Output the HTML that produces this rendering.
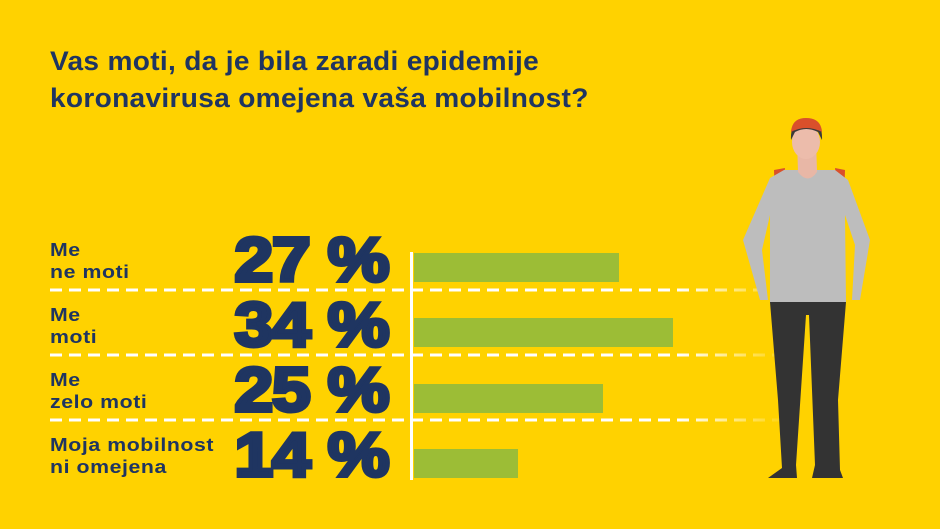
<!DOCTYPE html>
<html><head><meta charset="utf-8"><style>
body{margin:0;width:940px;height:529px;background:#FFD200;overflow:hidden;position:relative;font-family:"Liberation Sans",sans-serif;color:#1f3561}
.t{position:absolute;left:50px;top:43px;font-size:27px;font-weight:bold;line-height:37px;letter-spacing:0.3px;transform:scaleX(1.04);transform-origin:left}
.l{position:absolute;left:50px;font-size:18.5px;font-weight:bold;line-height:22px;letter-spacing:0.5px;transform:scaleX(1.15);transform-origin:left}
.n{position:absolute;right:552px;font-size:62px;font-weight:900;line-height:62px;letter-spacing:-1px;transform:scaleX(1.12);transform-origin:right;-webkit-text-stroke:4px #1f3561}
.b{position:absolute;left:414px;height:29px;background:#9cbd36}
</style></head><body>
<div class="t">Vas moti, da je bila zaradi epidemije<br>koronavirusa omejena vaša mobilnost?</div>
<svg width="940" height="529" style="position:absolute;left:0;top:0">
<defs><linearGradient id="g" gradientUnits="userSpaceOnUse" x1="50" y1="0" x2="790" y2="0"><stop offset="0.85" stop-color="#fff"/><stop offset="1" stop-color="#fff" stop-opacity="0"/></linearGradient></defs>
<g stroke="url(#g)" stroke-width="3" stroke-dasharray="12,7">
<line x1="50" y1="290" x2="790" y2="290"/><line x1="50" y1="355" x2="790" y2="355"/><line x1="50" y1="420" x2="790" y2="420"/></g>
<rect x="410" y="252" width="3" height="228" fill="#fff"/>
<path d="M774 170 L785 168 L776 230 Z" fill="#d9502b"/><path d="M845 170 L835 168 L843 230 Z" fill="#d9502b"/>
<path d="M784 170 L835 170 L848 180 L870 240 L860 300 L852 300 L855 245 L845 215 L846 302 L770 302 L770 215 L762 250 L768 300 L760 300 L743 240 L770 178 Z" fill="#bdbdbd"/>
<path d="M770 302 L846 302 L838 400 L840 470 L843 478 L812 478 L815 465 L809 315 L806 315 L796 465 L797 478 L768 478 L782 468 L778 400 Z" fill="#333"/>
<path d="M797 140 L816 140 L817 172 Q808 185 798 172 Z" fill="#e8b7a6"/>
<ellipse cx="806" cy="142" rx="14" ry="17" fill="#ecbcab"/>
<path d="M791 140 Q790 120 806 120 Q823 120 822 140 L818 132 Q806 126 795 132 Z" fill="#3a3a3a"/>
<path d="M791 132 Q792 118 806 118 Q821 118 822 132 Q806 124 791 132Z" fill="#d9502b"/>
</svg>
<div class="l" style="top:239px">Me<br>ne moti</div>
<div class="l" style="top:304px">Me<br>moti</div>
<div class="l" style="top:369px">Me<br>zelo moti</div>
<div class="l" style="top:434px">Moja mobilnost<br>ni omejena</div>
<div class="n" style="top:230px">27 %</div>
<div class="n" style="top:295px">34 %</div>
<div class="n" style="top:360px">25 %</div>
<div class="n" style="top:425px">14 %</div>
<div class="b" style="top:253px;width:205px"></div>
<div class="b" style="top:318px;width:259px"></div>
<div class="b" style="top:384px;width:189px"></div>
<div class="b" style="top:449px;width:104px"></div>
</body></html>
